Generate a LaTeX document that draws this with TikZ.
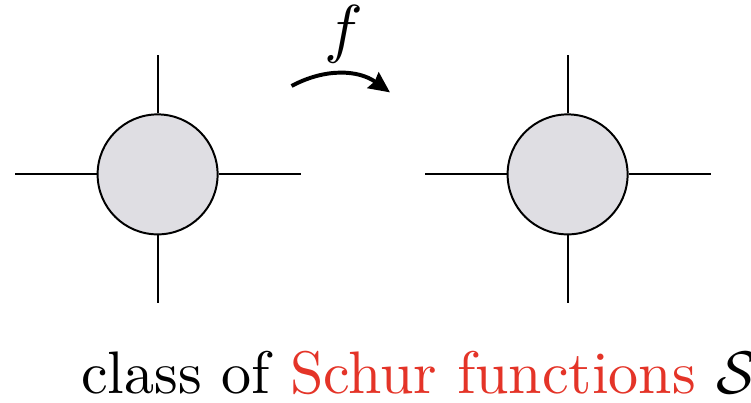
\documentclass[tikz,border=0pt]{standalone}
\usepackage{amsmath,amssymb}
\usetikzlibrary{arrows.meta}

\definecolor{blobgray}{RGB}{223,222,227}
\definecolor{schurred}{RGB}{228,52,40}

\tikzset{
  blob/.style={circle, draw, fill=blobgray, minimum size=3cm, inner sep=0pt, line width=1.4pt},
  spoke/.style={line width=1.4pt},
  bigtext/.style={inner sep=0pt, scale=4.27},
}

\begin{document}
\begin{tikzpicture}
\useasboundingbox (0,0) rectangle (18.775,10.05);
% left vertex
\node[blob] (L) at (3.94, 5.69) {};
\draw[spoke] (L.west) -- ++(-2.05,0);
\draw[spoke] (L.east) -- ++(2.05,0);
\draw[spoke] (L.north) -- ++(0,1.45);
\draw[spoke] (L.south) -- ++(0,-1.7);
% right vertex
\node[blob] (R) at (14.19, 5.69) {};
\draw[spoke] (R.west) -- ++(-2.05,0);
\draw[spoke] (R.east) -- ++(2.05,0);
\draw[spoke] (R.north) -- ++(0,1.45);
\draw[spoke] (R.south) -- ++(0,-1.7);
% the map f
\coordinate (fa) at (7.29, 7.9);
\coordinate (fb) at (9.75, 7.74);
\draw[line width=2.8pt, -{Stealth[length=0.52cm, width=0.48cm, inset=0.05cm]}] (fa) to[bend left=32] (fb);
\node[bigtext, scale=1.08, anchor=base] (f) at (8.6, 8.78) {$f$};
% caption
\node[bigtext, anchor=base west] (cap) at (2.0, 0.225)
  {class of \textcolor{schurred}{Schur functions} $\mathcal{S}$};
\end{tikzpicture}
\end{document}
